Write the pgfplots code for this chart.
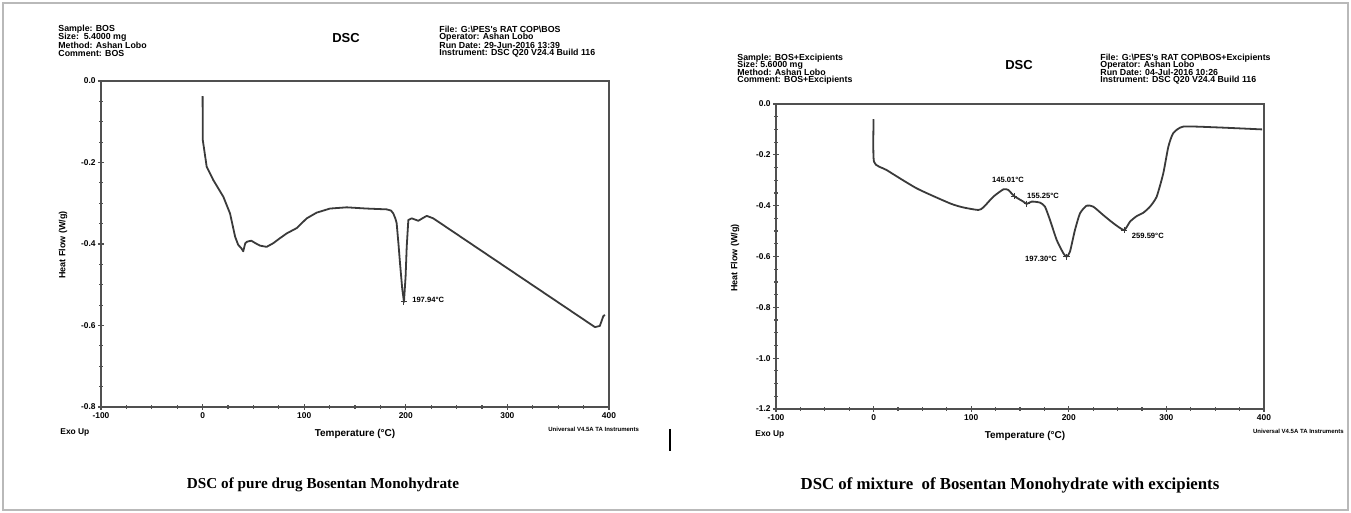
\documentclass[border=0pt]{standalone}
\usepackage{fontspec}
\setmainfont{Liberation Serif}
\newfontfamily\hsans{Liberation Sans}
\usepackage{pgfplots}
\pgfplotsset{compat=1.18}
\definecolor{crv}{HTML}{3A3A3A}
\definecolor{axc}{HTML}{505050}
\newcommand{\hf}[1]{\hsans\bfseries\fontsize{#1}{#1}\selectfont}
\pgfplotsset{dsc/.style={
  scale only axis, anchor=south west, xmin=-100, xmax=400,
  axis line style={axc, line width=1.1pt},
  xtick={-100,0,...,400}, minor x tick num=3, minor y tick num=3,
  tick align=center, xtick pos=bottom, ytick pos=left,
  major tick length=3pt, minor tick length=1.6pt,
  every tick/.style={axc, line width=0.6pt},
  tick label style={font=\hf{4.2}},
  /pgf/number format/assume math mode=true,
  xticklabel style={/pgf/number format/fixed, /pgf/number format/precision=0, inner sep=1pt},
  yticklabel style={/pgf/number format/fixed, /pgf/number format/fixed zerofill, /pgf/number format/precision=1, inner sep=1pt},
  clip=false,
}}
\begin{document}
\begin{tikzpicture}
\useasboundingbox (0,0) rectangle (675.5pt,256.5pt);
\draw[gray!55, line width=0.6pt] (1.5pt,1.5pt) rectangle (674pt,255pt);
% ---------- left panel ----------
\begin{axis}[dsc, at={(50.5pt,53pt)}, width=254pt, height=163pt,
  ymin=-0.8, ymax=0, ytick={-0.8,-0.6,...,0}]
\addplot[crv, line width=0.9pt, line join=round] coordinates {
(0,-0.037) (0.2,-0.145) (4,-0.21) (10.5,-0.243) (20.4,-0.284) (27,-0.325) (32,-0.382) (35,-0.402) (38,-0.41) (40,-0.418) (42,-0.398) (44,-0.394) (48,-0.392) (52,-0.398) (56.5,-0.404) (63,-0.407) (69.6,-0.398) (76,-0.386) (82.8,-0.374) (92.6,-0.361) (102.5,-0.337) (112.3,-0.323) (125.4,-0.313) (141.8,-0.310) (161.5,-0.313) (181.2,-0.315) (185.5,-0.318) (187.7,-0.325) (189.8,-0.338) (191,-0.349) (192.8,-0.40) (194.3,-0.447) (196.5,-0.51) (198.2,-0.542) (199.8,-0.48) (200.9,-0.407) (202.5,-0.341) (205.8,-0.337) (212.3,-0.343) (217,-0.336) (220.6,-0.331) (227,-0.337) (386.2,-0.604) (391,-0.601) (394.4,-0.577) (396,-0.574)};
\addplot[only marks, mark=+, mark size=1.6pt, crv, line width=0.5pt] coordinates {(198.2,-0.542)};
\node[font=\hf{3.8}, anchor=west, inner sep=0pt] at (axis cs:206,-0.538) {197.94°C};
\end{axis}
% ---------- right panel ----------
\begin{axis}[dsc, at={(388pt,52pt)}, width=244pt, height=152.5pt,
  ymin=-1.2, ymax=0, ytick={-1.2,-1.0,...,0}]
\addplot[crv, line width=0.9pt, line join=round, smooth, tension=0.35] coordinates {
(0,-0.06) (0.4,-0.227) (13.4,-0.26) (44.2,-0.332) (78.3,-0.391) (91.9,-0.407) (107.3,-0.417) (112.4,-0.407) (122.6,-0.365) (132.9,-0.336) (138,-0.338) (143.9,-0.362) (153.4,-0.384) (156.9,-0.393) (162,-0.384) (170.5,-0.388) (175.6,-0.404) (180.7,-0.456) (187.6,-0.535) (194.4,-0.587) (197.8,-0.601) (201.2,-0.581) (206.3,-0.496) (211.5,-0.43) (218.3,-0.4) (225.1,-0.404) (235.3,-0.437) (245.6,-0.469) (256.6,-0.496) (262.7,-0.463) (269.6,-0.441) (276.3,-0.428) (283.2,-0.404) (290,-0.365) (296.8,-0.273) (302,-0.168) (307,-0.115) (317.3,-0.089) (351.5,-0.092) (398,-0.1)};
\addplot[only marks, mark=+, mark size=1.6pt, crv, line width=0.5pt] coordinates {(143.9,-0.362) (156.9,-0.393) (197.8,-0.601) (256.6,-0.496)};
\node[font=\hf{3.8}, inner sep=0pt] at (axis cs:137.7,-0.299) {145.01°C};
\node[font=\hf{3.8}, inner sep=0pt] at (axis cs:173.6,-0.362) {155.25°C};
\node[font=\hf{3.8}, inner sep=0pt] at (axis cs:171.5,-0.61) {197.30°C};
\node[font=\hf{3.8}, inner sep=0pt] at (axis cs:281,-0.519) {259.59°C};
\end{axis}
% ---------- headers ----------
\begin{scope}[every node/.style={font=\hf{4.4}, anchor=west, inner sep=0pt}]
\node at (29pt,242pt) {Sample: BOS};
\node at (29pt,238pt) {Size:\ \ 5.4000 mg};
\node at (29pt,234pt) {Method: Ashan Lobo};
\node at (29pt,230pt) {Comment: BOS};
\node at (219.5pt,242pt) {File: G:\textbackslash PES's RAT COP\textbackslash BOS};
\node at (219.5pt,238pt) {Operator: Ashan Lobo};
\node at (219.5pt,234pt) {Run Date: 29-Jun-2016 13:39};
\node at (219.5pt,230pt) {Instrument: DSC Q20 V24.4 Build 116};
\node at (368.5pt,227.5pt) {Sample: BOS+Excipients};
\node at (368.5pt,223.8pt) {Size:\ 5.6000 mg};
\node at (368.5pt,220.1pt) {Method: Ashan Lobo};
\node at (368.5pt,216.4pt) {Comment: BOS+Excipients};
\node at (550pt,227.5pt) {File: G:\textbackslash PES's RAT COP\textbackslash BOS+Excipients};
\node at (550pt,223.8pt) {Operator: Ashan Lobo};
\node at (550pt,220.1pt) {Run Date: 04-Jul-2016 10:26};
\node at (550pt,216.4pt) {Instrument: DSC Q20 V24.4 Build 116};
\end{scope}
\node[font=\hf{4.2}, anchor=west, inner sep=0pt] at (30pt,40.5pt) {Exo Up};
\node[font=\hf{3.0}, anchor=west, inner sep=0pt] at (274pt,42pt) {Universal V4.5A TA Instruments};
\node[font=\hf{4.2}, anchor=west, inner sep=0pt] at (377.5pt,39.5pt) {Exo Up};
\node[font=\hf{3.0}, anchor=east, inner sep=0pt] at (672pt,41pt) {Universal V4.5A TA Instruments};
\node[font=\hf{6.5}] at (173pt,237.5pt) {DSC};
\node[font=\hf{6.5}] at (509.5pt,224pt) {DSC};
\node[font=\hf{5}] at (177.5pt,39.5pt) {Temperature (°C)};
\node[font=\hf{5}] at (512.5pt,38.5pt) {Temperature (°C)};
\node[font=\hf{4.5}, rotate=90] at (31.5pt,134pt) {Heat Flow (W/g)};
\node[font=\hf{4.5}, rotate=90] at (367.5pt,127.5pt) {Heat Flow (W/g)};
\draw[black, line width=1.4pt] (335pt,42pt) -- (335pt,31pt);
\node[font=\bfseries\fontsize{7.6}{8}\selectfont] at (161.5pt,14pt) {DSC of pure drug Bosentan Monohydrate};
\node[font=\bfseries\fontsize{8.4}{9}\selectfont] at (505pt,14pt) {DSC of mixture\ \ of Bosentan Monohydrate with excipients};
\end{tikzpicture}
\end{document}
